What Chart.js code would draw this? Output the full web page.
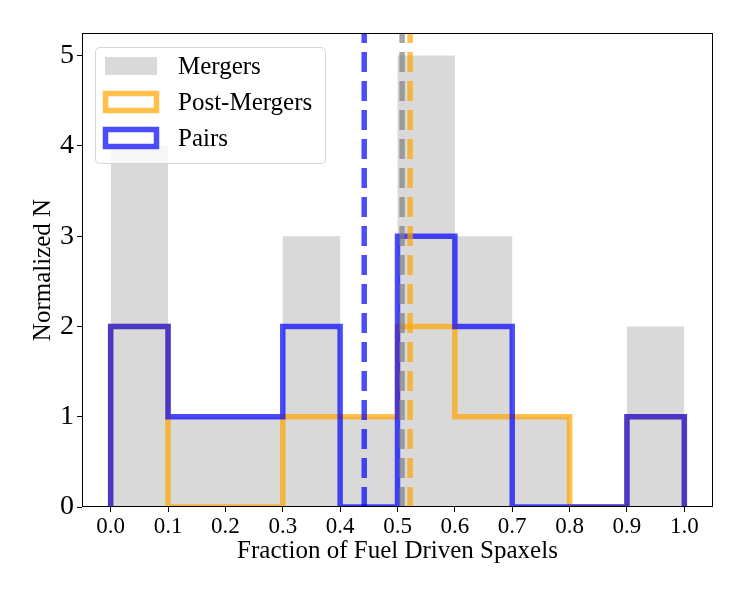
<!DOCTYPE html>
<html>
<head>
<meta charset="utf-8">
<title>Fraction of Fuel Driven Spaxels</title>
<script src="https://cdn.jsdelivr.net/npm/chart.js@4.4.0/dist/chart.umd.min.js"></script>
<style>
  html, body { margin: 0; padding: 0; background: #fff; }
  #wrap { width: 747px; height: 598px; }
</style>
</head>
<body>
<div id="wrap"><canvas id="histChart"></canvas></div>
<script>
// histogram bins
const binEdges = [0.0, 0.1, 0.2, 0.3, 0.4, 0.5, 0.6, 0.7, 0.8, 0.9, 1.0];

// normalized counts per bin
const mergersCounts     = [4, 1, 1, 3, 1, 5, 3, 1, 0, 2];
const postMergersCounts = [2, 0, 0, 1, 1, 2, 1, 1, 0, 1];
const pairsCounts       = [2, 1, 1, 2, 0, 3, 2, 0, 0, 1];

// medians, drawn as dashed lines
const mergersMedian = 0.508;
const postMergersMedian = 0.522;
const pairsMedian = 0.442;

// axes
const xTicks = [0.0, 0.1, 0.2, 0.3, 0.4, 0.5, 0.6, 0.7, 0.8, 0.9, 1.0];
const yTicks = [0, 1, 2, 3, 4, 5];
const xMin = -0.05, xMax = 1.05;
const yMin = 0, yMax = 5.25;

const FONT = "'Liberation Serif', 'DejaVu Serif', serif";

const GRAY_FILL = 'rgba(128,128,128,0.3)';
const GRAY_LINE = 'rgba(128,128,128,0.7)';
const ORANGE = 'rgba(255,165,0,0.7)';
const BLUE = 'rgba(0,0,255,0.7)';

// outline of a step histogram (open at the ends, like histtype='step')
function stepPoints(edges, counts) {
  const pts = [{x: edges[0], y: 0}];
  counts.forEach((c, i) => pts.push({x: edges[i], y: c}));
  pts.push({x: edges[edges.length - 1], y: 0});
  return pts;
}

function medianLine(x) {
  return [{x: x, y: yMin}, {x: x, y: yMax}];
}

// box around the plot
const framePlugin = {
  id: 'frame',
  afterDatasetsDraw(chart) {
    const {ctx, chartArea: a} = chart;
    ctx.save();
    ctx.strokeStyle = '#000';
    ctx.lineWidth = 1;
    ctx.strokeRect(a.left + 0.5, a.top + 0.5, a.right - a.left - 1, a.bottom - a.top - 1);
    ctx.restore();
  }
};

// matplotlib-like legend in the upper left corner
const legendPlugin = {
  id: 'boxLegend',
  afterDraw(chart) {
    const {ctx, chartArea: a} = chart;
    const items = chart.data.datasets.filter(d => d.inLegend);
    const x0 = a.left + 13, y0 = a.top + 14;
    const w = 230, h = 116;

    ctx.save();
    ctx.beginPath();
    ctx.roundRect(x0 + 0.5, y0 + 0.5, w, h, 4);
    ctx.fillStyle = 'rgba(255,255,255,0.8)';
    ctx.fill();
    ctx.strokeStyle = 'rgba(204,204,204,0.8)';
    ctx.lineWidth = 1;
    ctx.stroke();

    ctx.font = '25px ' + FONT;
    ctx.textBaseline = 'middle';
    ctx.textAlign = 'left';
    items.forEach((d, i) => {
      const cy = y0 + 19 + i * 36;
      if (d.fill) {
        ctx.fillStyle = d.backgroundColor;
        ctx.fillRect(x0 + 10, cy - 9, 52, 18);
      } else {
        ctx.strokeStyle = d.borderColor;
        ctx.lineWidth = 5.5;
        ctx.lineJoin = 'miter';
        ctx.strokeRect(x0 + 10.5, cy - 8.5, 51, 17);
      }
      ctx.fillStyle = '#000';
      ctx.fillText(d.label, x0 + 83, cy + 1);
    });
    ctx.restore();
  }
};

const stepStyle = {
  stepped: 'before',
  pointRadius: 0,
  borderWidth: 5.5,
  borderJoinStyle: 'miter',
  borderCapStyle: 'butt',
  fill: false
};

const dashStyle = {
  pointRadius: 0,
  borderWidth: 5.5,
  borderDash: [20, 9],
  borderCapStyle: 'butt',
  fill: false
};

new Chart(document.getElementById('histChart'), {
  type: 'line',
  data: {
    datasets: [
      Object.assign({label: 'Mergers', inLegend: true, data: stepPoints(binEdges, mergersCounts),
        backgroundColor: GRAY_FILL, borderColor: 'transparent', order: 10}, stepStyle,
        {fill: 'origin', borderWidth: 1}),
      Object.assign({label: 'Post-Mergers', inLegend: true, data: stepPoints(binEdges, postMergersCounts),
        borderColor: ORANGE, order: 9}, stepStyle),
      Object.assign({label: 'Pairs', inLegend: true, data: stepPoints(binEdges, pairsCounts),
        borderColor: BLUE, order: 8}, stepStyle),
      Object.assign({label: 'Pairs median', data: medianLine(pairsMedian), borderColor: BLUE, order: 3}, dashStyle),
      Object.assign({label: 'Mergers median', data: medianLine(mergersMedian), borderColor: GRAY_LINE, order: 2}, dashStyle),
      Object.assign({label: 'Post-Mergers median', data: medianLine(postMergersMedian), borderColor: ORANGE, order: 1}, dashStyle)
    ]
  },
  options: {
    responsive: true,
    maintainAspectRatio: false,
    animation: false,
    layout: { padding: { left: 0, right: 34, top: 33, bottom: 0 } },
    plugins: {
      legend: { display: false },
      tooltip: { enabled: false }
    },
    scales: {
      x: {
        type: 'linear',
        min: xMin,
        max: xMax,
        afterBuildTicks: s => { s.ticks = xTicks.map(v => ({value: v})); },
        afterFit: s => { s.height = 91; },
        grid: { display: true, drawOnChartArea: false, drawTicks: true, tickLength: 5, tickColor: '#000', tickWidth: 1 },
        border: { display: false },
        ticks: {
          color: '#000', padding: 1, maxRotation: 0, autoSkip: false,
          font: { family: FONT, size: 23 },
          callback: v => v.toFixed(1)
        },
        title: {
          display: true, text: 'Fraction of Fuel Driven Spaxels', color: '#000',
          font: { family: FONT, size: 25 }, padding: { top: 0, bottom: 32 }
        }
      },
      y: {
        type: 'linear',
        min: yMin,
        max: yMax,
        afterBuildTicks: s => { s.ticks = yTicks.map(v => ({value: v})); },
        afterFit: s => { s.width = 82; },
        grid: { display: true, drawOnChartArea: false, drawTicks: true, tickLength: 5, tickColor: '#000', tickWidth: 1 },
        border: { display: false },
        ticks: {
          color: '#000', padding: 3,
          font: { family: FONT, size: 28 },
          callback: v => String(v)
        },
        title: {
          display: true, text: 'Normalized N', color: '#000',
          font: { family: FONT, size: 25 }, padding: { top: 28, bottom: 0 }
        }
      }
    }
  },
  plugins: [framePlugin, legendPlugin]
});
</script>
</body>
</html>
